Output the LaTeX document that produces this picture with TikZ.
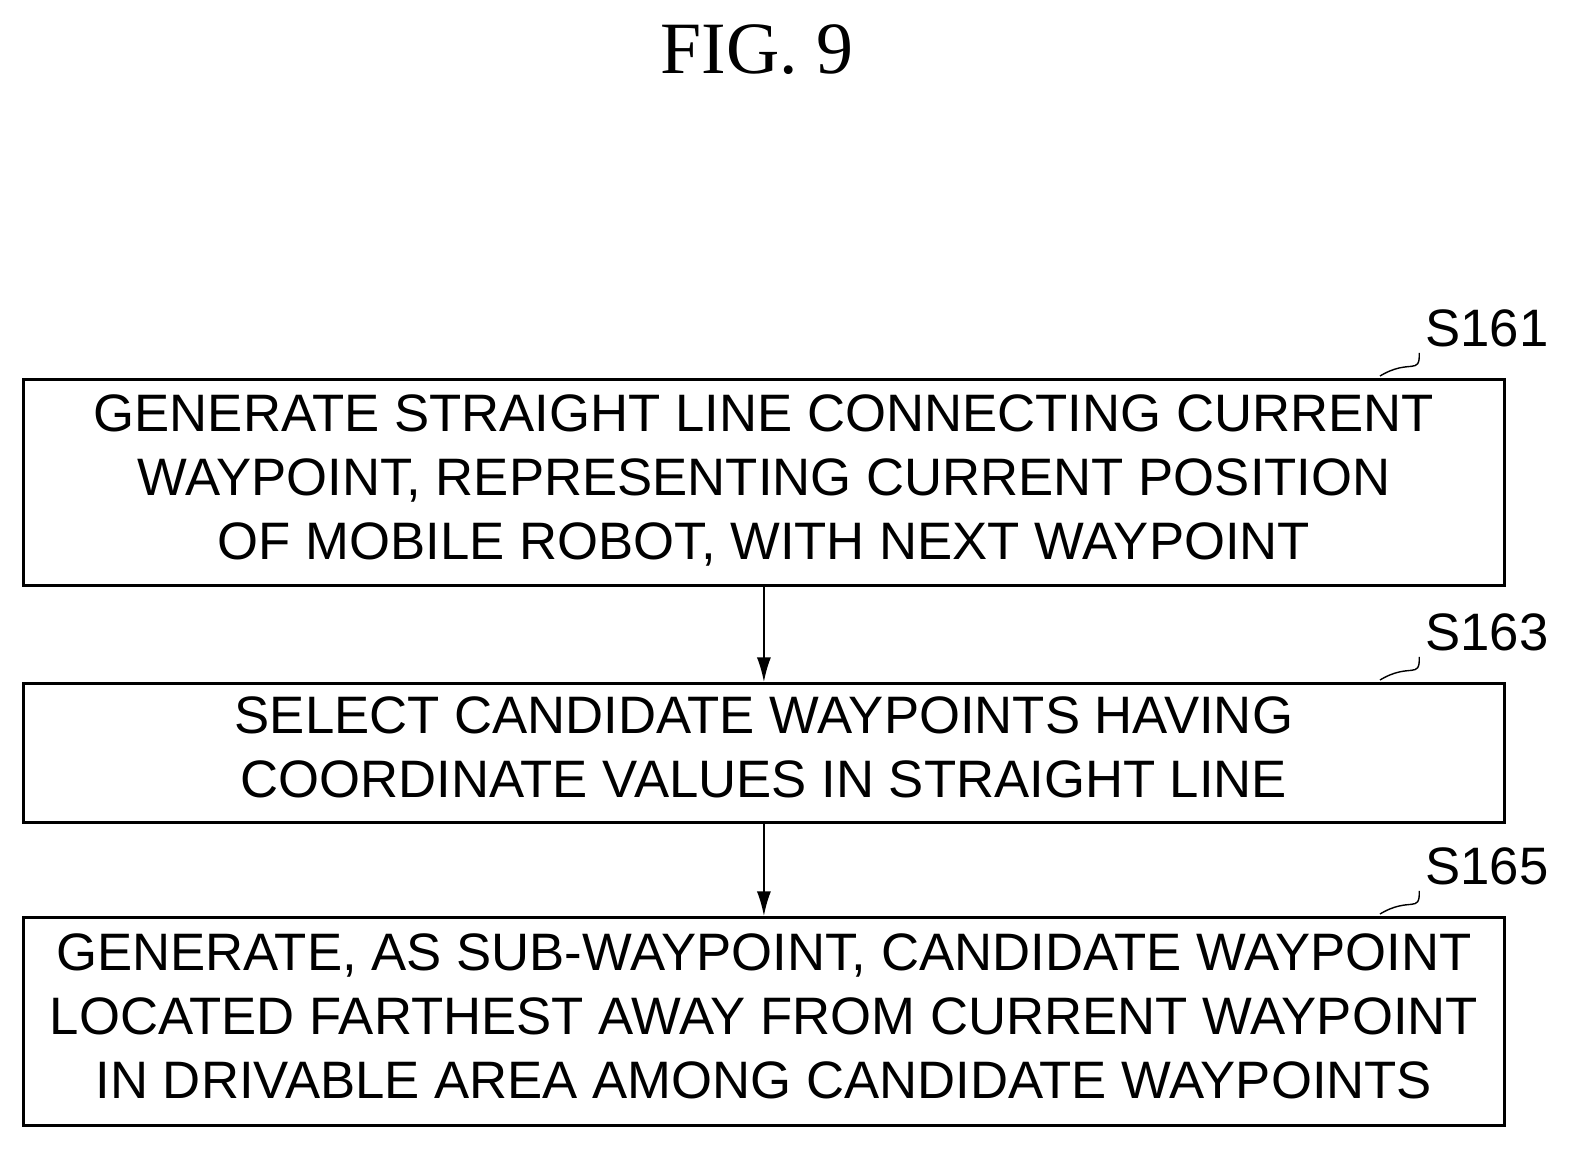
\documentclass[tikz,border=0pt]{standalone}
\usepackage{fontspec}
\usetikzlibrary{arrows.meta}
\setmainfont{Liberation Sans}
\newfontfamily\titlefont{Liberation Serif}
\begin{document}
\begin{tikzpicture}[x=0.02cm,y=-0.02cm,
  stepbox/.style={draw,line width=1.6pt,anchor=north west,inner sep=0pt,align=center,font=\fontsize{30}{36.5}\selectfont},
  lab/.style={font=\fontsize{30}{36}\selectfont,anchor=center},
  arr/.style={-{Latex[length=14pt,width=8pt]},line width=1pt}]
\useasboundingbox (0,0) rectangle (1573,1149);
\node[font=\titlefont\fontsize{42}{48}\selectfont] (title) at (757,50) {FIG. 9};
\node[stepbox,minimum width=1481*0.02cm,minimum height=206*0.02cm] (b1) at (22,378) {\raisebox{-6pt}{\begin{tabular}{@{}c@{}}GENERATE STRAIGHT LINE CONNECTING CURRENT\\WAYPOINT, REPRESENTING CURRENT POSITION\\OF MOBILE ROBOT, WITH NEXT WAYPOINT\end{tabular}}};
\node[stepbox,minimum width=1481*0.02cm,minimum height=139*0.02cm] (b2) at (22,682) {\raisebox{-5pt}{\begin{tabular}{@{}c@{}}SELECT CANDIDATE WAYPOINTS HAVING\\COORDINATE VALUES IN STRAIGHT LINE\end{tabular}}};
\node[stepbox,minimum width=1481*0.02cm,minimum height=208*0.02cm] (b3) at (22,916) {\raisebox{-4pt}{\begin{tabular}{@{}c@{}}GENERATE, AS SUB-WAYPOINT, CANDIDATE WAYPOINT\\LOCATED FARTHEST AWAY FROM CURRENT WAYPOINT\\IN DRIVABLE AREA AMONG CANDIDATE WAYPOINTS\end{tabular}}};
\draw[arr] (b1.south) -- (b2.north);
\draw[arr] (b2.south) -- (b3.north);
\node[lab] (l1) at (1487,328) {S161};
\node[lab] (l2) at (1487,632) {S163};
\node[lab] (l3) at (1487,866) {S165};
\foreach \l/\y in {l1/378,l2/682,l3/916}{
  \coordinate (c\l) at (1380,\y-2);
  \draw[line width=0.8pt] (c\l) .. controls (1410,\y-20) and (1420,\y-2) .. (\l.south west);
}
\end{tikzpicture}
\end{document}
